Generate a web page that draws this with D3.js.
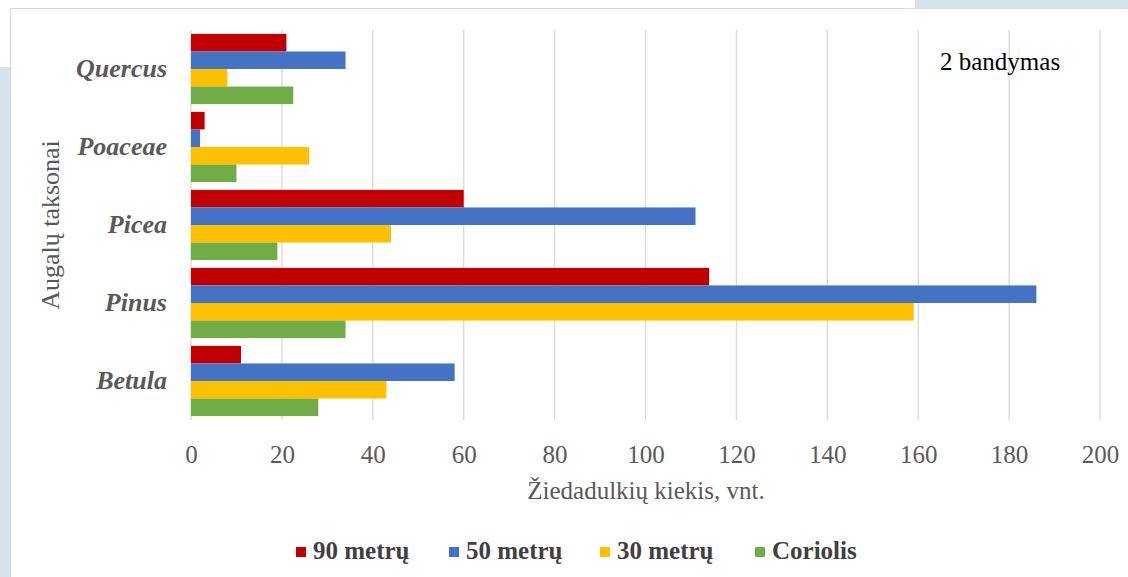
<!DOCTYPE html>
<html>
<head>
  <meta charset='utf-8'>
  <script src="https://cdn.jsdelivr.net/npm/d3@7"></script>
  <style>
    body { margin: 0; background: #fff; }
    svg text { font-family: "Liberation Serif", "Times New Roman", "DejaVu Serif", serif; }
  </style>
</head>
<body>
<script>
  let taxa = ['Quercus', 'Poaceae', 'Picea', 'Pinus', 'Betula']
  let seriesNames = ['90 metrų', '50 metrų', '30 metrų', 'Coriolis']
  let colors = ['#C00000', '#4472C4', '#FFC000', '#70AD47']
  let v90 = [21, 3, 60, 114, 11]
  let v50 = [34, 2, 111, 186, 58]
  let v30 = [8, 26, 44, 159, 43]
  let vCor = [22.5, 10, 19, 34, 28]
  let xTicks = [0, 20, 40, 60, 80, 100, 120, 140, 160, 180, 200]

  let w = 1128
  let h = 577
  let padL = 191, padR = 1100, padT = 30, padB = 420
  let serif = '"Liberation Serif", "Times New Roman", "DejaVu Serif", serif'

  let allSeries = [v90, v50, v30, vCor]

  let svg = d3.select('body').append('svg')
    .attr('width', w)
    .attr('height', h)
    .attr('font-family', serif)

  // backdrop bits around the chart box
  svg.append('rect').attr('x', 0).attr('y', 67).attr('width', 11).attr('height', h - 67).attr('fill', '#d5e3ea')
  svg.append('rect').attr('x', 915).attr('y', 0).attr('width', w - 915).attr('height', 8).attr('fill', '#d5e3ea')
  svg.append('rect').attr('x', 10.5).attr('y', 8.5).attr('width', w).attr('height', h)
    .attr('fill', '#fff').attr('stroke', '#d9d9d9')

  let xScale = d3.scaleLinear().domain([0, 200]).range([padL, padR])
  let yScale = d3.scaleBand().domain(taxa).range([padT, padB]).paddingInner(0.1).paddingOuter(0.05)
  let inner = d3.scaleBand().domain(d3.range(seriesNames.length)).range([0, yScale.bandwidth()])

  // gridlines
  svg.append('g').selectAll('line')
    .data(xTicks)
    .enter()
    .append('line')
    .attr('x1', d => xScale(d)).attr('x2', d => xScale(d))
    .attr('y1', padT).attr('y2', padB)
    .attr('stroke', '#d9d9d9').attr('stroke-width', 1.3)

  // bars
  allSeries.forEach(function (vals, si) {
    svg.append('g').selectAll('rect')
      .data(vals)
      .enter()
      .append('rect')
      .attr('x', xScale(0))
      .attr('y', (d, i) => yScale(taxa[i]) + inner(si))
      .attr('width', d => xScale(d) - xScale(0))
      .attr('height', inner.bandwidth())
      .attr('fill', colors[si])
  })

  // x axis labels
  let xAxis = d3.axisBottom(xScale).tickValues(xTicks).tickSize(0).tickPadding(25)
  let xg = svg.append('g').attr('transform', 'translate(0,' + padB + ')').call(xAxis)
  xg.attr('font-family', serif)
  xg.select('.domain').remove()
  xg.selectAll('text').attr('font-size', 25).attr('fill', '#595959')

  // y axis labels
  let yAxis = d3.axisLeft(yScale).tickSize(0).tickPadding(24)
  let yg = svg.append('g').attr('transform', 'translate(' + padL + ',0)').call(yAxis)
  yg.attr('font-family', serif)
  yg.select('.domain').remove()
  yg.selectAll('text').attr('font-size', 26).attr('fill', '#595959')
    .attr('font-weight', 'bold').attr('font-style', 'italic')

  // titles
  svg.append('text').attr('x', 646).attr('y', 499)
    .attr('text-anchor', 'middle').attr('font-size', 25).attr('fill', '#595959')
    .text('Žiedadulkių kiekis, vnt.')
  svg.append('text').attr('transform', 'translate(59,225) rotate(-90)')
    .attr('text-anchor', 'middle').attr('font-size', 26).attr('fill', '#595959')
    .text('Augalų taksonai')
  svg.append('text').attr('x', 940).attr('y', 70)
    .attr('font-size', 25).attr('fill', '#000')
    .text('2 bandymas')

  // legend
  let legX = [296, 449, 600, 755]
  let leg = svg.append('g').selectAll('g')
    .data(seriesNames)
    .enter()
    .append('g')
    .attr('transform', (d, i) => 'translate(' + legX[i] + ',557)')
  leg.append('rect').attr('x', 0).attr('y', -10).attr('width', 10).attr('height', 10)
    .attr('fill', (d, i) => colors[i])
  leg.append('text').attr('x', 17).attr('y', 2)
    .attr('font-size', 25).attr('font-weight', 'bold').attr('fill', '#404040')
    .text(d => d)
</script>
</body>
</html>
